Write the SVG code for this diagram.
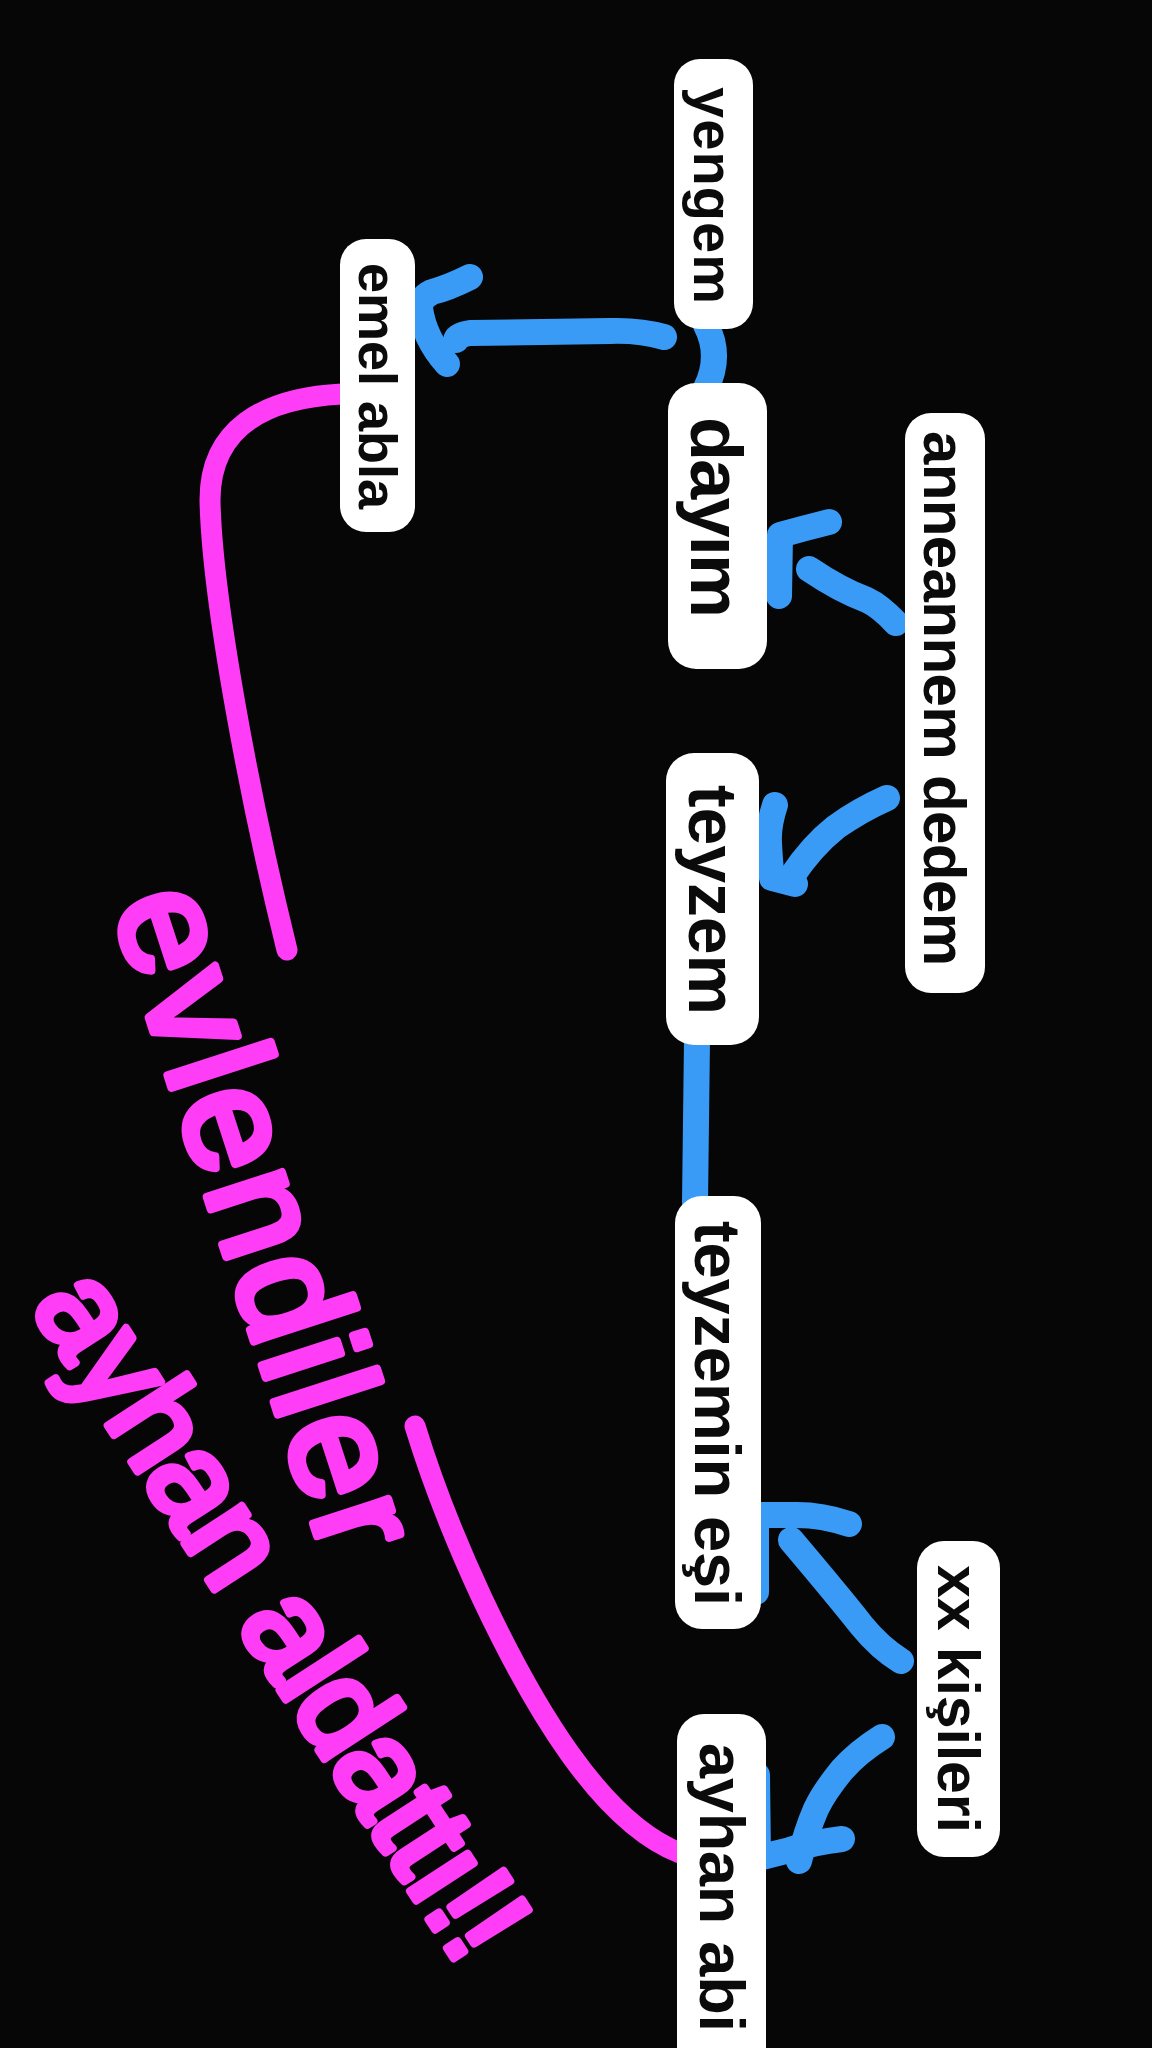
<svg xmlns="http://www.w3.org/2000/svg" width="1152" height="2048" viewBox="0 0 1152 2048">
<style>
.bg{fill:#060606}
.node rect{fill:#ffffff}
.node text{font-family:"Liberation Sans",Arial,sans-serif;font-weight:700;fill:#0b0b0b}
.conn path{fill:none;stroke:#3A9BF7;stroke-width:26;stroke-linecap:round;stroke-linejoin:round}
.conn path.pink{stroke:#FF3CF6;stroke-width:21}
.hand{font-family:"Liberation Sans",Arial,sans-serif;fill:#FF3CF6;stroke:#FF3CF6;stroke-width:8;stroke-linejoin:round;stroke-linecap:round}
</style>
<rect class="bg" x="0" y="0" width="1152" height="2048"/>

<g id="connectors" class="conn">
  <!-- yengem - dayim -->
  <path d="M706,325 Q722,356 706,388"/>
  <!-- yengem -> emel abla -->
  <path d="M664,337 Q640,330 610,331 L470,333 Q457,335 456,340"/>
  <path d="M470,277 Q448,288 432,292 Q420,298 420,308 Q424,338 447,364"/>
  <!-- anneannem dedem -> dayim -->
  <path d="M896,623 Q880,606 867,600 Q840,590 809,569"/>
  <path d="M829,522 Q805,528 780,535 L779,596"/>
  <!-- anneannem dedem -> teyzem -->
  <path d="M887,798 Q860,810 836,827 Q812,846 792,876"/>
  <path d="M775,805 Q768,826 769,843 Q770,864 772,878 L795,884"/>
  <!-- teyzem - teyzemin esi -->
  <path d="M697,1040 L695,1202"/>
  <!-- xx kisileri -> teyzemin esi -->
  <path d="M901,1661 Q880,1648 862,1626 Q840,1598 791,1540"/>
  <path d="M849,1524 Q822,1515 797,1515 L756,1515 L756,1592"/>
  <!-- xx kisileri -> ayhan abi -->
  <path d="M882,1737 Q858,1752 842,1770 Q824,1792 816,1809 Q806,1832 799,1861"/>
  <path d="M842,1839 Q815,1842 790,1850 L758,1858 L757,1775"/>
  <!-- magenta lines -->
  <path class="pink" d="M342,394 C262,398 210,430 210,500 C212,600 250,800 287,950"/>
  <path class="pink" d="M680,1853 C600,1822 532,1704 482,1598 C455,1540 430,1475 415,1426"/>
</g>

<g id="node-yengem" class="node">
  <rect x="674" y="59" width="79" height="270" rx="26"/>
  <text transform="translate(694,87) rotate(90)" font-size="56" textLength="217" lengthAdjust="spacing">yengem</text>
</g>
<g id="node-emel-abla" class="node">
  <rect x="340" y="239" width="75" height="293" rx="26"/>
  <text transform="translate(359,263) rotate(90)" font-size="54" textLength="246" lengthAdjust="spacing">emel abla</text>
</g>
<g id="node-dayim" class="node">
  <rect x="668" y="383" width="99" height="286" rx="28"/>
  <text transform="translate(691,417) rotate(90)" font-size="72" textLength="201" lengthAdjust="spacing">dayım</text>
</g>
<g id="node-anneannem-dedem" class="node">
  <rect x="905" y="413" width="80" height="580" rx="26"/>
  <text transform="translate(924,431) rotate(90)" font-size="60" textLength="535" lengthAdjust="spacing">anneannem dedem</text>
</g>
<g id="node-teyzem" class="node">
  <rect x="666" y="753" width="93" height="292" rx="28"/>
  <text transform="translate(689,785) rotate(90)" font-size="68" textLength="230" lengthAdjust="spacing">teyzem</text>
</g>
<g id="node-teyzemin-esi" class="node">
  <rect x="675" y="1196" width="86" height="433" rx="27"/>
  <text transform="translate(695,1221) rotate(90)" font-size="65" textLength="385" lengthAdjust="spacing">teyzemin eşi</text>
</g>
<g id="node-xx-kisileri" class="node">
  <rect x="917" y="1541" width="83" height="316" rx="27"/>
  <text transform="translate(938,1565) rotate(90)" font-size="59" textLength="268" lengthAdjust="spacing">xx kişileri</text>
</g>
<g id="node-ayhan-abi" class="node">
  <rect x="677" y="1714" width="89" height="370" rx="27"/>
  <text transform="translate(700,1743) rotate(90)" font-size="63" textLength="289" lengthAdjust="spacing">ayhan abi</text>
</g>

<g id="handwriting">
  <text class="hand" transform="translate(112,905) rotate(72)" font-size="150" textLength="690" lengthAdjust="spacing">evlendiler</text>
  <text class="hand" transform="translate(30,1306) rotate(57)" font-size="130" textLength="790" lengthAdjust="spacing">ayhan aldattı!!</text>
</g>
</svg>
